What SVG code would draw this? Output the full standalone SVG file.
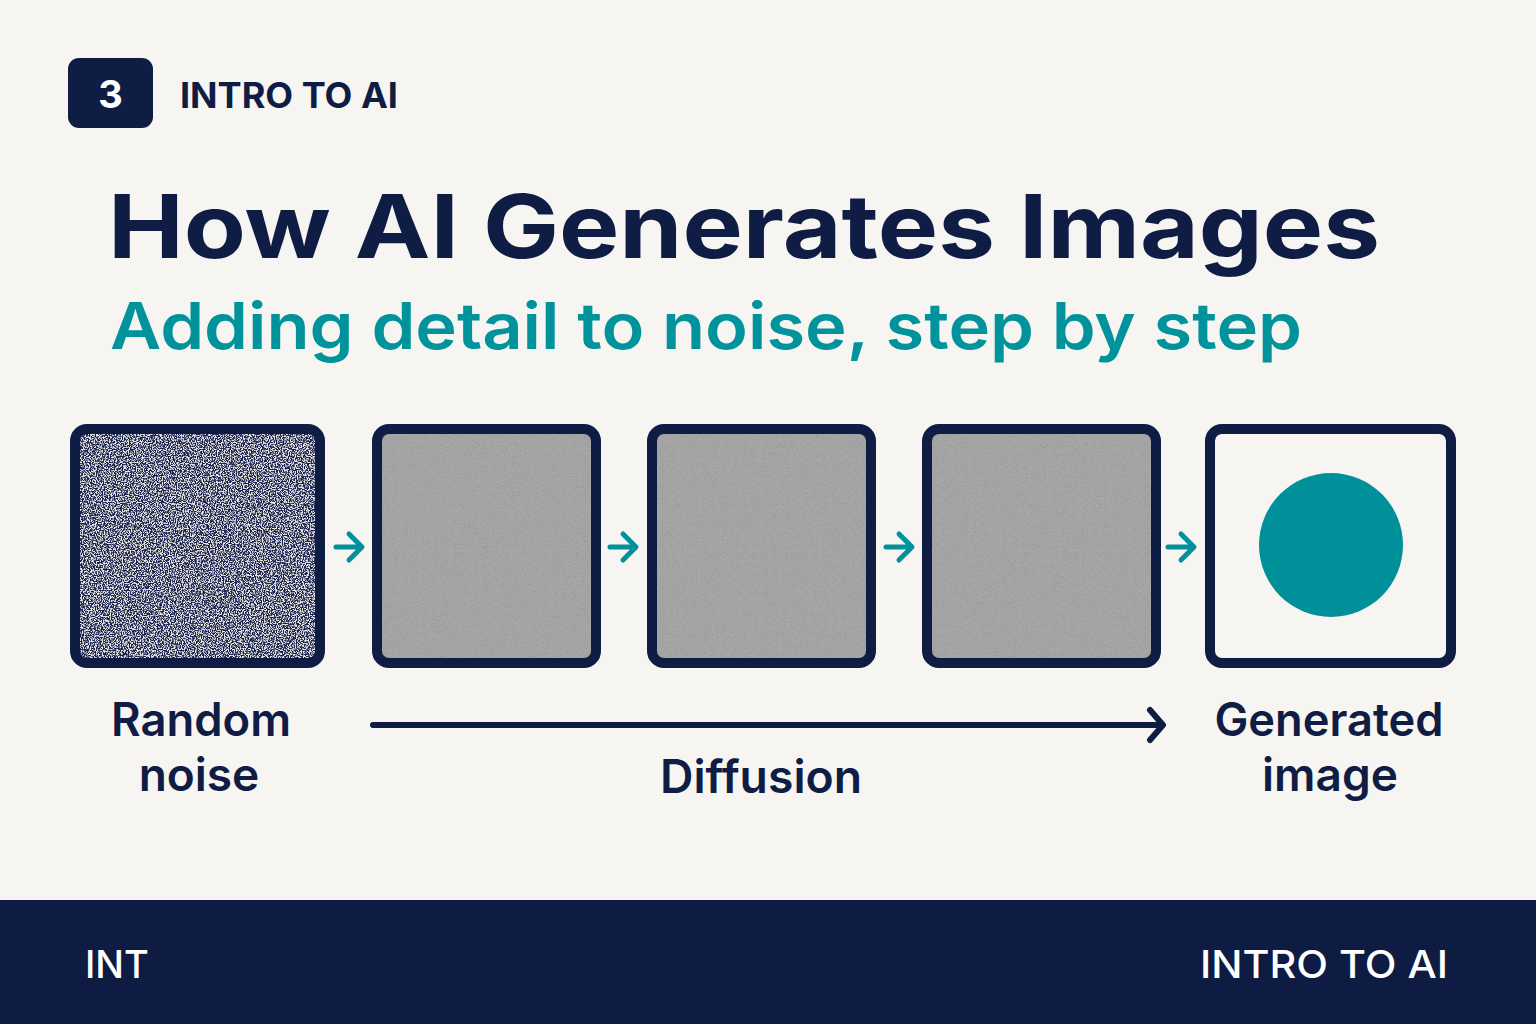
<svg xmlns="http://www.w3.org/2000/svg" width="1536" height="1024" viewBox="0 0 1536 1024">
<style>
.navy{fill:#0F1C44}
.t{font-family:Inter,"Liberation Sans","DejaVu Sans",sans-serif}
.box{stroke:#0F1C44;stroke-width:10}
.lbl{font-family:Inter,"Liberation Sans",sans-serif;font-weight:600;font-size:46px;fill:#0F1C44;text-anchor:middle}
.sm{fill:none;stroke:#00919A;stroke-width:5;stroke-linecap:round;stroke-linejoin:round}
</style>
<defs>
<filter id="noiseHi" x="0" y="0" width="100%" height="100%" color-interpolation-filters="sRGB">
<feTurbulence type="fractalNoise" baseFrequency="0.85" numOctaves="2" seed="3" result="n"/>
<feColorMatrix in="n" type="matrix" values="0 0 0 0 0  0 0 0 0 0  0 0 0 0 0  6 0 0 0 -2.4" result="a"/>
<feFlood flood-color="#1B2350"/>
<feComposite in2="a" operator="in" result="dots"/>
<feFlood flood-color="#E6E4DE" result="bg"/>
<feMerge><feMergeNode in="bg"/><feMergeNode in="dots"/></feMerge>
<feComposite in2="SourceGraphic" operator="in"/>
</filter>
<filter id="noiseLo" x="0" y="0" width="100%" height="100%" color-interpolation-filters="sRGB">
<feTurbulence type="fractalNoise" baseFrequency="0.9" numOctaves="2" seed="7" result="n"/>
<feColorMatrix in="n" type="matrix" values="0 0 0 0 0  0 0 0 0 0  0 0 0 0 0  1.2 0 0 0 -0.6" result="a"/>
<feFlood flood-color="#7A7A7A"/>
<feComposite in2="a" operator="in" result="dots"/>
<feFlood flood-color="#A6A6A6" result="bg"/>
<feMerge><feMergeNode in="bg"/><feMergeNode in="dots"/></feMerge>
<feComposite in2="SourceGraphic" operator="in"/>
</filter>
</defs>
<rect width="1536" height="1024" fill="#F7F5F1"/>

<g id="header">
<rect x="68" y="58" width="85" height="70" rx="11" class="navy"/>
<text x="110.5" y="108" class="t" font-size="38" font-weight="700" fill="#FFFFFF" text-anchor="middle">3</text>
<text x="180" y="108" class="t navy" font-size="35" font-weight="700" textLength="218" lengthAdjust="spacingAndGlyphs">INTRO TO AI</text>
</g>

<g id="title">
<text x="108" y="258" class="t navy" font-size="88" font-weight="700" textLength="1272" lengthAdjust="spacingAndGlyphs">How AI Generates Images</text>
<text x="110" y="349" class="t" font-size="64" font-weight="600" fill="#00939B" textLength="1192" lengthAdjust="spacingAndGlyphs">Adding detail to noise, step by step</text>
</g>

<g id="node-noise">
<rect x="75" y="429" width="245" height="234" rx="12" fill="#DDD" filter="url(#noiseHi)"/>
<rect x="75" y="429" width="245" height="234" rx="12" fill="none" class="box"/>
</g>
<g id="node-step1">
<rect x="377" y="429" width="219" height="234" rx="12" fill="#AAA" filter="url(#noiseLo)"/>
<rect x="377" y="429" width="219" height="234" rx="12" fill="none" class="box"/>
</g>
<g id="node-step2">
<rect x="652" y="429" width="219" height="234" rx="12" fill="#AAA" filter="url(#noiseLo)"/>
<rect x="652" y="429" width="219" height="234" rx="12" fill="none" class="box"/>
</g>
<g id="node-step3">
<rect x="927" y="429" width="229" height="234" rx="12" fill="#AAA" filter="url(#noiseLo)"/>
<rect x="927" y="429" width="229" height="234" rx="12" fill="none" class="box"/>
</g>
<g id="node-image">
<rect x="1210" y="429" width="241" height="234" rx="12" fill="#F7F5F1" class="box"/>
<circle cx="1331" cy="545" r="72" fill="#00909A"/>
</g>

<g id="connectors">
<path class="sm" d="M336 547H361M349 534L362 547L349 560"/>
<path class="sm" d="M610 547H635M623 534L636 547L623 560"/>
<path class="sm" d="M886 547H911M899 534L912 547L899 560"/>
<path class="sm" d="M1168 547H1193M1181 534L1194 547L1181 560"/>
<path d="M373 725H1161M1150 710L1163 725L1150 740" fill="none" stroke="#0F1C44" stroke-width="6" stroke-linecap="round" stroke-linejoin="round"/>
</g>

<g id="labels">
<text x="201" y="736" class="lbl" textLength="180" lengthAdjust="spacingAndGlyphs">Random</text>
<text x="199" y="791" class="lbl">noise</text>
<text x="761" y="793" class="lbl" textLength="202" lengthAdjust="spacingAndGlyphs">Diffusion</text>
<text x="1329" y="736" class="lbl" textLength="229" lengthAdjust="spacingAndGlyphs">Generated</text>
<text x="1330" y="791" class="lbl">image</text>
</g>

<g id="footer">
<rect x="0" y="900" width="1536" height="124" fill="#0E1B42"/>
<text x="85" y="978" class="t" font-size="38" font-weight="500" fill="#FFFFFF">INT</text>
<text x="1200" y="978" class="t" font-size="38" font-weight="500" fill="#FFFFFF" textLength="248" lengthAdjust="spacingAndGlyphs">INTRO TO AI</text>
</g>
</svg>
